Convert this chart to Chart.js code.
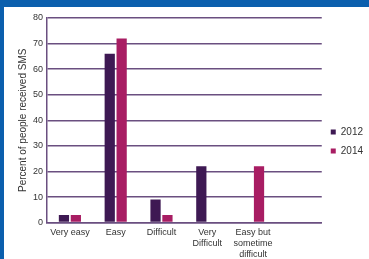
<!DOCTYPE html>
<html>
<head>
<meta charset="utf-8">
<script src="https://cdn.jsdelivr.net/npm/chart.js@4"></script>
<style>
  html, body { margin: 0; padding: 0; background: #fff; }
  #wrap { position: relative; width: 369px; height: 259px; overflow: hidden; }
  #chartCanvas { position: absolute; left: 0; top: 0; }
  .band { position: absolute; background: #0b5fad; }
</style>
</head>
<body>
<div id="wrap">
  <canvas id="chartCanvas" width="369" height="259"></canvas>
  <div class="band" style="left:0;top:0;width:369px;height:7px"></div>
  <div class="band" style="left:0;top:0;width:4px;height:259px"></div>
</div>
<script>
// Dữ liệu
const categories = ['Very easy', 'Easy', 'Difficult', ['Very', 'Difficult'], ['Easy but', 'sometime', 'difficult'], ''];
const values2012 = [3, 66, 9, 22, null, null];
const values2014 = [3, 72, 3, null, 22, null];
const yTicks = [0, 10, 20, 30, 40, 50, 60, 70, 80];

const gridColor = '#6a4f80';
const textColor = '#333333';

function createChart(ctx) {
    return new Chart(ctx, {
        type: 'bar',
        data: {
            labels: categories,
            datasets: [
                {
                    label: '2012',
                    data: values2012,
                    backgroundColor: '#3e1953',
                    categoryPercentage: 0.52,
                    barPercentage: 0.86,
                },
                {
                    label: '2014',
                    data: values2014,
                    backgroundColor: '#a81d63',
                    categoryPercentage: 0.52,
                    barPercentage: 0.86,
                }
            ]
        },
        options: {
            responsive: false,
            animation: false,
            layout: { padding: { left: 8, top: 18, right: -4, bottom: -6 } },
            plugins: {
                tooltip: { enabled: false },
                legend: {
                    display: true,
                    position: 'right',
                    labels: {
                        boxWidth: 5,
                        boxHeight: 5,
                        padding: 9,
                        color: textColor,
                        font: { family: 'Liberation Sans', size: 10 }
                    }
                }
            },
            scales: {
                x: {
                    grid: { display: false, drawTicks: false },
                    border: { display: true, color: gridColor, width: 1.5 },
                    ticks: {
                        color: textColor,
                        maxRotation: 0,
                        autoSkip: false,
                        padding: 5,
                        font: { family: 'Liberation Sans', size: 9 }
                    }
                },
                y: {
                    min: 0,
                    max: 80,
                    afterBuildTicks: axis => { axis.ticks = yTicks.map(v => ({ value: v })); },
                    grid: { color: gridColor, lineWidth: 1.5, drawTicks: false },
                    border: { display: true, color: gridColor, width: 1.5 },
                    title: {
                        display: true,
                        text: 'Percent of people received SMS',
                        color: textColor,
                        padding: { top: 9, bottom: 0 },
                        font: { family: 'Liberation Sans', size: 10 }
                    },
                    ticks: {
                        color: textColor,
                        padding: 4,
                        font: { family: 'Liberation Sans', size: 9 }
                    }
                }
            }
        }
    });
}

window.addEventListener('load', () => {
    const ctx = document.getElementById('chartCanvas').getContext('2d');
    createChart(ctx);
});
</script>
</body>
</html>
